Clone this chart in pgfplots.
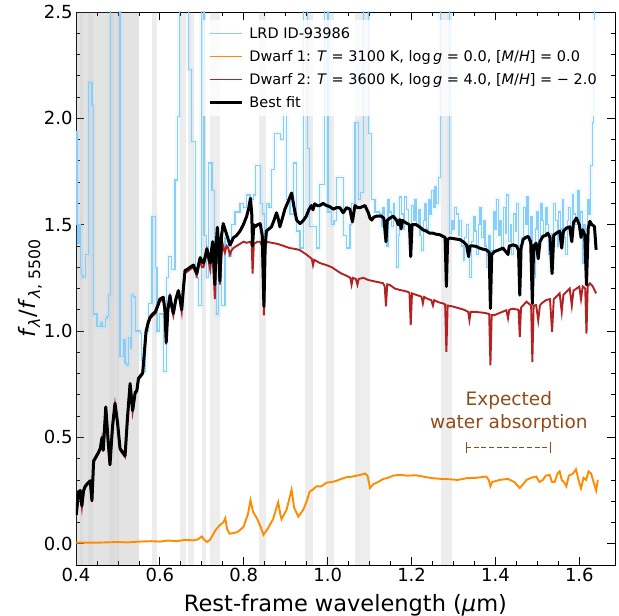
\documentclass[border=0pt]{standalone}
\usepackage{fontspec}
\setmainfont{DejaVu Sans}
\usepackage{pgfplots}
\usepackage{pgfplotstable}
\usetikzlibrary{arrows.meta}
\pgfplotsset{compat=1.18}
\pgfplotsset{legend image code/.code={\draw[#1] (0pt,0pt) -- (32pt,0pt);}}
\definecolor{lrdblue}{RGB}{135,206,250}
\definecolor{dorange}{RGB}{255,140,0}
\definecolor{fbrick}{RGB}{178,34,34}
\definecolor{anncol}{RGB}{145,75,25}

\pgfplotstableread{
x y
0.400 1.94
0.4025 1.50
0.405 1.41
0.4075 1.50
0.410 1.29
0.4125 1.26
0.4165 1.25
0.422 1.36
0.430 2.17
0.438 2.06
0.442 1.08
0.446 1.08
0.450 1.02
0.454 1.02
0.458 1.04
0.462 1.02
0.466 1.02
0.470 1.06
0.474 1.07
0.4775 1.17
0.4814 2.80
0.505 0.88
0.509 0.88
0.513 0.96
0.517 0.85
0.521 0.84
0.525 0.97
0.529 0.92
0.533 1.17
0.537 1.16
0.541 1.00
0.545 1.00
0.549 1.00
0.553 0.99
0.557 0.86
0.561 0.81
0.565 1.00
0.569 1.00
0.573 1.13
0.577 1.13
0.581 1.54
0.585 1.54
0.589 1.30
0.593 1.00
0.597 1.00
0.600 1.08
0.604 1.08
0.608 0.81
0.612 0.81
0.615 1.25
0.620 1.35
0.624 1.35
0.628 1.29
0.632 1.29
0.636 1.71
0.642 2.01
0.646 2.80
0.668 2.23
0.676 1.89
0.680 1.89
0.684 1.25
0.688 1.25
0.692 1.12
0.696 1.12
0.700 2.80
0.705 1.45
0.710 1.45
0.712 1.25
0.716 1.79
0.720 1.79
0.724 1.66
0.728 1.66
0.731 1.29
0.735 1.08
0.739 1.39
0.743 1.39
0.747 1.12
0.751 1.12
0.755 1.44
0.759 1.44
0.763 1.35
0.767 1.35
0.771 1.50
0.775 1.50
0.779 1.56
0.787 1.56
0.791 1.60
0.799 1.58
0.807 1.64
0.815 1.62
0.823 1.64
0.827 1.78
0.833 1.78
0.839 1.60
0.845 1.55
0.850 1.40
0.854 1.60
0.860 1.58
0.866 1.76
0.874 1.93
0.882 1.93
0.888 1.90
0.894 2.06
0.902 1.62
0.910 1.55
0.918 1.79
0.926 1.47
0.934 1.39
0.942 2.80
0.951 1.86
0.957 1.49
0.965 1.49
0.973 1.39
0.981 1.69
0.993 2.80
1.001 1.56
1.009 1.50
1.015 1.52
1.021 1.72
1.029 1.72
1.037 1.45
1.045 1.39
1.053 1.50
1.057 1.60
1.065 1.98
1.073 1.62
1.079 1.65
1.085 2.80
1.097 1.93
1.105 1.62
1.113 1.56
1.120 1.56
1.124 1.55
1.128 1.49
1.132 1.58
1.136 1.45
1.140 1.40
1.144 1.62
1.148 1.56
1.152 1.49
1.156 1.60
1.160 1.52
1.164 1.30
1.168 1.45
1.172 1.63
1.176 1.55
1.180 1.48
1.184 1.63
1.188 1.57
1.192 1.46
1.196 1.40
1.200 1.59
1.204 1.52
1.208 1.62
1.212 1.50
1.216 1.57
1.220 1.45
1.224 1.38
1.228 1.52
1.232 1.60
1.236 1.48
1.240 1.62
1.244 1.55
1.248 1.66
1.252 1.58
1.256 1.68
1.260 1.60
1.264 1.72
1.269 2.80
1.291 1.46
1.295 1.52
1.299 1.48
1.303 1.58
1.307 1.55
1.311 1.45
1.315 1.52
1.319 1.40
1.323 1.33
1.327 1.44
1.331 1.50
1.335 1.38
1.339 1.25
1.343 1.42
1.347 1.54
1.351 1.47
1.355 1.36
1.359 1.50
1.363 1.58
1.367 1.44
1.371 1.52
1.375 1.40
1.379 1.30
1.383 1.45
1.387 1.20
1.391 1.38
1.395 1.56
1.399 1.48
1.403 1.62
1.407 1.45
1.411 1.52
1.415 1.38
1.419 1.58
1.423 1.46
1.427 1.64
1.431 1.42
1.435 1.50
1.439 1.36
1.443 1.55
1.447 1.47
1.451 1.60
1.455 1.40
1.459 1.28
1.463 1.44
1.467 1.58
1.471 1.50
1.475 1.63
1.479 1.42
1.483 1.54
1.487 1.33
1.491 1.25
1.495 1.48
1.499 1.56
1.503 1.40
1.507 1.60
1.511 1.52
1.515 1.45
1.519 1.58
1.523 1.50
1.527 1.36
1.531 1.28
1.535 1.46
1.539 1.60
1.543 1.52
1.547 1.40
1.551 1.56
1.555 1.48
1.559 1.62
1.563 1.44
1.567 1.36
1.571 1.52
1.575 1.58
1.579 1.47
1.583 1.64
1.587 1.55
1.591 1.50
1.595 1.66
1.599 1.48
1.603 1.56
1.607 1.32
1.611 1.50
1.615 1.45
1.619 1.62
1.623 1.55
1.627 1.78
1.631 1.98
1.634 2.20
1.637 2.80
1.645 2.80
}\lrd

\pgfplotstableread{
x y
0.400 0.005
0.450 0.005
0.500 0.008
0.520 0.006
0.550 0.010
0.580 0.012
0.600 0.010
0.620 0.015
0.640 0.012
0.660 0.018
0.680 0.016
0.690 0.020
0.700 0.034
0.705 0.020
0.712 0.008
0.720 0.020
0.733 0.065
0.742 0.086
0.751 0.100
0.756 0.120
0.760 0.070
0.766 0.047
0.775 0.050
0.785 0.055
0.799 0.078
0.810 0.140
0.816 0.205
0.822 0.150
0.832 0.117
0.840 0.080
0.847 0.042
0.857 0.070
0.870 0.117
0.882 0.195
0.887 0.140
0.890 0.115
0.902 0.160
0.914 0.254
0.920 0.170
0.930 0.127
0.942 0.160
0.950 0.200
0.957 0.245
0.965 0.255
0.973 0.270
0.985 0.270
0.997 0.287
1.010 0.290
1.021 0.296
1.033 0.305
1.045 0.313
1.057 0.315
1.069 0.320
1.080 0.325
1.089 0.330
1.095 0.320
1.101 0.262
1.108 0.279
1.120 0.290
1.132 0.304
1.144 0.310
1.156 0.320
1.172 0.324
1.190 0.320
1.210 0.322
1.235 0.313
1.251 0.308
1.270 0.305
1.291 0.303
1.310 0.300
1.331 0.308
1.355 0.310
1.378 0.316
1.384 0.300
1.388 0.270
1.392 0.290
1.410 0.300
1.430 0.305
1.445 0.290
1.458 0.262
1.466 0.280
1.474 0.300
1.485 0.310
1.497 0.316
1.505 0.290
1.513 0.300
1.520 0.320
1.529 0.324
1.535 0.290
1.541 0.290
1.548 0.330
1.553 0.340
1.558 0.300
1.565 0.285
1.569 0.270
1.575 0.320
1.585 0.330
1.592 0.350
1.598 0.300
1.604 0.260
1.610 0.310
1.616 0.300
1.622 0.340
1.628 0.330
1.634 0.290
1.640 0.250
1.644 0.300
}\dwarfone

\pgfplotstableread{
x y
0.4005 0.130
0.406 0.240
0.410 0.245
0.414 0.172
0.418 0.245
0.422 0.265
0.428 0.280
0.434 0.290
0.438 0.197
0.442 0.383
0.448 0.404
0.454 0.425
0.458 0.444
0.462 0.493
0.465 0.434
0.471 0.637
0.476 0.494
0.481 0.366
0.487 0.544
0.493 0.654
0.499 0.564
0.505 0.442
0.511 0.424
0.517 0.408
0.523 0.594
0.529 0.747
0.535 0.620
0.541 0.704
0.545 0.714
0.549 0.772
0.554 0.784
0.559 0.797
0.563 0.894
0.567 0.990
0.572 1.032
0.577 1.058
0.583 1.072
0.589 1.082
0.595 1.112
0.600 1.140
0.608 1.149
0.612 1.090
0.615 0.937
0.619 1.090
0.624 1.157
0.628 1.110
0.632 1.073
0.638 1.140
0.644 1.180
0.648 1.140
0.652 1.090
0.656 1.190
0.660 1.275
0.666 1.280
0.672 1.290
0.680 1.300
0.684 1.280
0.688 1.260
0.692 1.300
0.696 1.335
0.700 1.300
0.704 1.300
0.708 1.340
0.712 1.380
0.716 1.330
0.720 1.290
0.723 1.350
0.726 1.370
0.731 1.150
0.734 1.350
0.737 1.400
0.740 1.320
0.743 1.218
0.747 1.360
0.751 1.400
0.755 1.370
0.759 1.400
0.763 1.390
0.767 1.360
0.771 1.380
0.775 1.390
0.783 1.400
0.791 1.410
0.799 1.420
0.807 1.415
0.816 1.420
0.819 1.400
0.821 1.270
0.824 1.410
0.833 1.420
0.839 1.420
0.844 1.400
0.848 1.074
0.851 1.380
0.854 1.420
0.866 1.415
0.880 1.410
0.895 1.400
0.910 1.390
0.925 1.385
0.934 1.380
0.949 1.360
0.962 1.340
0.965 1.310
0.968 1.335
0.981 1.320
0.997 1.310
1.010 1.300
1.021 1.285
1.033 1.270
1.045 1.260
1.054 1.250
1.057 1.218
1.060 1.250
1.067 1.245
1.071 1.218
1.074 1.245
1.085 1.250
1.097 1.240
1.108 1.235
1.120 1.230
1.132 1.225
1.136 1.210
1.139 1.116
1.142 1.220
1.148 1.217
1.160 1.200
1.172 1.193
1.180 1.190
1.190 1.185
1.195 1.180
1.198 1.028
1.201 1.177
1.211 1.170
1.219 1.165
1.224 1.160
1.227 1.130
1.230 1.160
1.240 1.150
1.247 1.145
1.251 1.120
1.254 1.145
1.265 1.135
1.275 1.130
1.280 1.125
1.283 0.902
1.286 1.120
1.299 1.115
1.315 1.106
1.325 1.100
1.335 1.090
1.338 1.051
1.341 1.090
1.350 1.090
1.362 1.088
1.375 1.085
1.385 1.080
1.388 0.839
1.391 1.075
1.398 1.075
1.410 1.085
1.426 1.098
1.430 1.060
1.433 1.100
1.440 1.105
1.455 1.100
1.458 0.972
1.461 1.110
1.474 1.138
1.485 1.120
1.488 0.854
1.491 1.120
1.497 1.122
1.502 1.050
1.506 1.120
1.510 1.130
1.521 1.146
1.530 1.150
1.535 0.996
1.539 1.150
1.553 1.177
1.558 1.090
1.562 1.170
1.567 1.180
1.577 1.200
1.582 1.120
1.586 1.190
1.600 1.209
1.604 1.150
1.608 1.210
1.614 1.200
1.617 0.988
1.620 1.210
1.625 1.224
1.632 1.210
1.640 1.177
}\dwarftwo

\pgfplotstableread{
x y
0.4005 0.135
0.406 0.245
0.410 0.250
0.414 0.178
0.418 0.250
0.422 0.270
0.428 0.285
0.434 0.296
0.438 0.203
0.442 0.389
0.448 0.410
0.454 0.431
0.458 0.450
0.462 0.499
0.465 0.440
0.471 0.643
0.476 0.500
0.481 0.372
0.487 0.550
0.493 0.660
0.499 0.570
0.505 0.448
0.511 0.430
0.517 0.414
0.523 0.600
0.529 0.753
0.535 0.626
0.541 0.710
0.545 0.720
0.549 0.778
0.554 0.790
0.559 0.803
0.563 0.900
0.567 0.998
0.572 1.040
0.577 1.066
0.583 1.080
0.589 1.090
0.595 1.120
0.600 1.150
0.608 1.159
0.612 1.100
0.615 0.947
0.619 1.100
0.624 1.167
0.628 1.120
0.632 1.083
0.638 1.150
0.644 1.190
0.648 1.150
0.652 1.100
0.656 1.200
0.660 1.285
0.666 1.290
0.672 1.300
0.680 1.310
0.684 1.290
0.688 1.270
0.692 1.310
0.696 1.345
0.700 1.330
0.704 1.320
0.708 1.350
0.712 1.387
0.716 1.350
0.720 1.320
0.723 1.380
0.726 1.420
0.731 1.218
0.734 1.400
0.737 1.488
0.740 1.400
0.743 1.235
0.747 1.450
0.751 1.505
0.755 1.480
0.759 1.455
0.763 1.430
0.767 1.404
0.771 1.420
0.775 1.438
0.783 1.450
0.791 1.470
0.799 1.500
0.807 1.540
0.812 1.580
0.816 1.624
0.819 1.550
0.821 1.400
0.824 1.500
0.827 1.490
0.833 1.500
0.839 1.505
0.844 1.450
0.848 1.116
0.851 1.400
0.854 1.470
0.860 1.480
0.866 1.490
0.872 1.520
0.878 1.556
0.882 1.530
0.886 1.490
0.892 1.530
0.898 1.573
0.906 1.610
0.914 1.649
0.920 1.580
0.926 1.522
0.934 1.505
0.942 1.520
0.949 1.540
0.955 1.570
0.961 1.590
0.965 1.570
0.969 1.598
0.975 1.590
0.981 1.590
0.989 1.600
0.997 1.590
1.005 1.585
1.013 1.573
1.021 1.580
1.029 1.580
1.037 1.556
1.045 1.580
1.053 1.573
1.059 1.513
1.065 1.590
1.071 1.580
1.077 1.580
1.083 1.585
1.089 1.590
1.097 1.556
1.101 1.530
1.105 1.522
1.110 1.535
1.116 1.540
1.122 1.540
1.128 1.540
1.134 1.530
1.139 1.420
1.142 1.520
1.148 1.530
1.156 1.540
1.164 1.522
1.168 1.500
1.172 1.524
1.175 1.480
1.178 1.520
1.187 1.508
1.195 1.500
1.198 1.350
1.201 1.500
1.211 1.500
1.219 1.490
1.227 1.476
1.235 1.470
1.243 1.460
1.251 1.460
1.259 1.455
1.267 1.453
1.275 1.445
1.280 1.440
1.283 1.209
1.286 1.430
1.291 1.437
1.299 1.435
1.307 1.432
1.315 1.430
1.323 1.420
1.331 1.405
1.336 1.350
1.339 1.400
1.346 1.400
1.354 1.398
1.362 1.390
1.370 1.385
1.378 1.382
1.385 1.370
1.388 1.106
1.391 1.360
1.398 1.374
1.406 1.380
1.418 1.390
1.430 1.360
1.433 1.400
1.442 1.405
1.450 1.400
1.455 1.380
1.458 1.169
1.461 1.390
1.466 1.430
1.472 1.440
1.478 1.445
1.484 1.420
1.488 1.130
1.491 1.400
1.497 1.413
1.502 1.340
1.506 1.420
1.513 1.445
1.520 1.450
1.525 1.460
1.530 1.440
1.535 1.270
1.539 1.450
1.545 1.460
1.553 1.470
1.558 1.390
1.562 1.470
1.569 1.484
1.577 1.490
1.582 1.420
1.586 1.510
1.593 1.531
1.600 1.500
1.604 1.440
1.608 1.476
1.613 1.450
1.617 1.217
1.621 1.480
1.625 1.516
1.630 1.500
1.636 1.492
1.640 1.382
}\bestfit

\newcommand\band[3][0.14]{\addplot[fill=gray, fill opacity=#1, draw=none, forget plot] coordinates {(#2,-0.1) (#2,2.5) (#3,2.5) (#3,-0.1)} -- cycle;}

\begin{document}
\begin{tikzpicture}
\begin{axis}[
  name=ax,
  scale only axis,
  width=539pt, height=553pt,
  xmin=0.4, xmax=1.685, ymin=-0.1, ymax=2.5,
  axis line style={line width=0.9pt},
  tick style={line width=0.8pt, black},
  tick align=inside,
  tick pos=both,
  major tick length=8pt, minor tick length=4pt,
  xtick={0.4,0.6,0.8,1.0,1.2,1.4,1.6}, minor x tick num=3,
  ytick={0,0.5,1.0,1.5,2.0,2.5}, minor y tick num=4,
  /pgf/number format/assume math mode=true,
  xticklabel style={/pgf/number format/.cd, fixed, fixed zerofill, precision=1},
  yticklabel style={/pgf/number format/.cd, fixed, fixed zerofill, precision=1},
  ticklabel style={font=\fontsize{18}{21}\selectfont},
  xlabel={Rest-frame wavelength (\textit{μ}m)},
  ylabel={\textit{f}\textsubscript{\textit{λ}}/\textit{f}\textsubscript{\textit{λ}, 5500}},
  label style={font=\fontsize{22.5}{26}\selectfont},
  xlabel style={at={(axis description cs:0.5,-0.072)}, anchor=center},
  ylabel style={at={(axis description cs:-0.085,0.5)}, anchor=center},
  legend style={at={(axis description cs:0.236,0.985)}, anchor=north west,
    draw=none, fill=white, fill opacity=0.8, text opacity=1,
    font=\fontsize{14.5}{17}\selectfont, row sep=6.5pt, inner xsep=5pt, inner ysep=5pt,
    nodes={inner xsep=6pt}},
  legend cell align=left,
]
\band[0.22]{0.400}{0.550}
\band[0.08]{0.410}{0.416}
\band[0.08]{0.428}{0.440}
\band[0.08]{0.478}{0.493}
\band[0.08]{0.496}{0.503}
\band{0.582}{0.594}
\band{0.648}{0.662}
\band{0.667}{0.681}
\band{0.700}{0.709}
\band{0.719}{0.743}
\band{0.836}{0.853}
\band{0.945}{0.964}
\band{0.995}{1.015}
\band{1.064}{1.102}
\band{1.270}{1.297}

\addplot[const plot, lrdblue, line width=5pt, opacity=0.12, forget plot] table {\lrd};
\addplot[const plot, lrdblue, line width=1.2pt] table {\lrd};
\addlegendentry{LRD ID-93986}
\addplot[dorange, line width=1.9pt] table {\dwarfone};
\addlegendentry{Dwarf 1: \textit{T} = 3100 K, log\,\textit{g} = 0.0, [\textit{M}/\textit{H}] = 0.0}
\addplot[fbrick, line width=1.9pt] table {\dwarftwo};
\addlegendentry{Dwarf 2: \textit{T} = 3600 K, log\,\textit{g} = 4.0, [\textit{M}/\textit{H}] = − 2.0}
\addplot[black, line width=3pt, line join=round] table {\bestfit};
\addlegendentry{Best fit}

\node[anncol, font=\fontsize{18.5}{22}\selectfont] at (axis cs:1.432,0.676) {Expected};
\node[anncol, font=\fontsize{18.5}{22}\selectfont] at (axis cs:1.432,0.566) {water absorption};
\draw[anncol, {Bar[width=11pt]}-{Bar[width=11pt]}, dash pattern=on 5pt off 2.6pt, line width=0.8pt] (axis cs:1.329,0.451) -- (axis cs:1.532,0.451);
\end{axis}
\path (ax.south west) ++(-76pt,-51pt) coordinate (bl);
\path (ax.north east) ++(4pt,12pt) coordinate (tr);
\pgfresetboundingbox
\path (bl) rectangle (tr);
\end{tikzpicture}
\end{document}
